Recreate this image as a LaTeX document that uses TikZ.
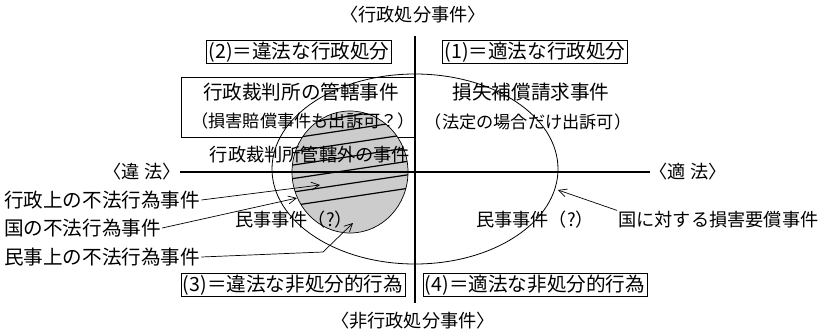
\documentclass[tikz,border=0pt]{standalone}
\usepackage{fontspec}
\setmainfont{Noto Sans CJK JP}
\usetikzlibrary{arrows.meta}
\newcommand\fsA{\fontsize{19.6}{21}\selectfont}
\newcommand\fsB{\fontsize{18.2}{20}\selectfont}
\newcommand\fsC{\fontsize{17.2}{19}\selectfont}
\newcommand\fsD{\fontsize{18.2}{20}\selectfont}
\begin{document}
\begin{tikzpicture}[x=1pt,y=-1pt,
  lbl/.style={inner sep=1pt, font=\fsA},
  boxed/.style={draw, line width=0.8pt, inner xsep=2pt, inner ysep=1pt, minimum height=21pt, font=\fsA},
  axisline/.style={line width=1.1pt},
  conn/.style={line width=0.7pt, -{Straight Barb[length=8pt,width=8pt]}},
  framed/.style={line width=0.8pt},
  hatchline/.style={line width=1.2pt, black}]
\useasboundingbox (0,0) rectangle (830,332);

% box of administrative court cases
\draw[framed] (181,77) rectangle (415,137);

% hatched circle
\fill[black!20] (350,172) ellipse (58pt and 61pt);
\begin{scope}
  \clip (350,172) ellipse (58pt and 61pt);
  \draw[hatchline] (280,126.5) -- (420,105.5);
  \draw[hatchline] (280,140) -- (420,119);
  \draw[hatchline] (280,153.5) -- (420,132.5);
  \draw[hatchline] (280,167) -- (420,146);
  \draw[hatchline] (280,180.5) -- (420,159.5);
  \draw[hatchline] (280,194) -- (420,173);
  \draw[hatchline] (280,207.5) -- (420,186.5);
\end{scope}
\draw[line width=0.7pt] (350,172) ellipse (58pt and 61pt);

% big ellipse
\draw[framed] (415,169) ellipse (143pt and 95pt);

% axes
\draw[axisline] (415,36) -- (415,303);
\draw[axisline] (180,172) -- (650,172);

% labels
\node[lbl, font=\fsD] (top) at (413,15) {〈行政処分事件〉};
\node[lbl, font=\fsD] (bot) at (413,321) {〈非行政処分事件〉};
\node[boxed] (b2) at (299,52) {(2)＝違法な行政処分};
\node[boxed] (b1) at (535,52) {(1)＝適法な行政処分};
\node[boxed] (b3) at (293,285) {(3)＝違法な非処分的行為};
\node[boxed] (b4) at (535,285) {(4)＝適法な非処分的行為};
\node[lbl] (kan) at (301,92) {行政裁判所の管轄事件};
\node[lbl, font=\fsC] (kan2) at (303,121) {（損害賠償事件も出訴可？）};
\node[lbl] (son) at (531,92) {損失補償請求事件};
\node[lbl, font=\fsC] (son2) at (528,122) {（法定の場合だけ出訴可）};
\node[lbl, font=\fsB] (gai) at (310,155) {行政裁判所管轄外の事件};
\node[lbl, font=\fsB] (ih) at (142,172) {〈違 法〉};
\node[lbl, font=\fsB] (th) at (688,172) {〈適 法〉};
\node[lbl, anchor=west] (gy) at (3,200) {行政上の不法行為事件};
\node[lbl, anchor=west] (ku) at (3,228) {国の不法行為事件};
\node[lbl, anchor=west] (mj) at (3,257) {民事上の不法行為事件};
\node[lbl, font=\fsB] (mL) at (294,220) {民事事件（?）};
\node[lbl, font=\fsB] (mR) at (535,220) {民事事件（?）};
\node[lbl, font=\fsB, anchor=west] (kt) at (617,220) {国に対する損害要償事件};

% connectors
\coordinate (t1) at (320,185);
\coordinate (t2) at (297,198);
\coordinate (k3) at (323,252);
\coordinate (t3) at (353,223);
\coordinate (t4) at (558,190);
\draw[conn] (gy.east) -- (t1);
\draw[conn] (ku.east) -- (t2);
\draw[conn] (mj.east) -- (k3) -- (t3);
\draw[conn] (kt.north west) -- (t4);
\end{tikzpicture}
\end{document}
